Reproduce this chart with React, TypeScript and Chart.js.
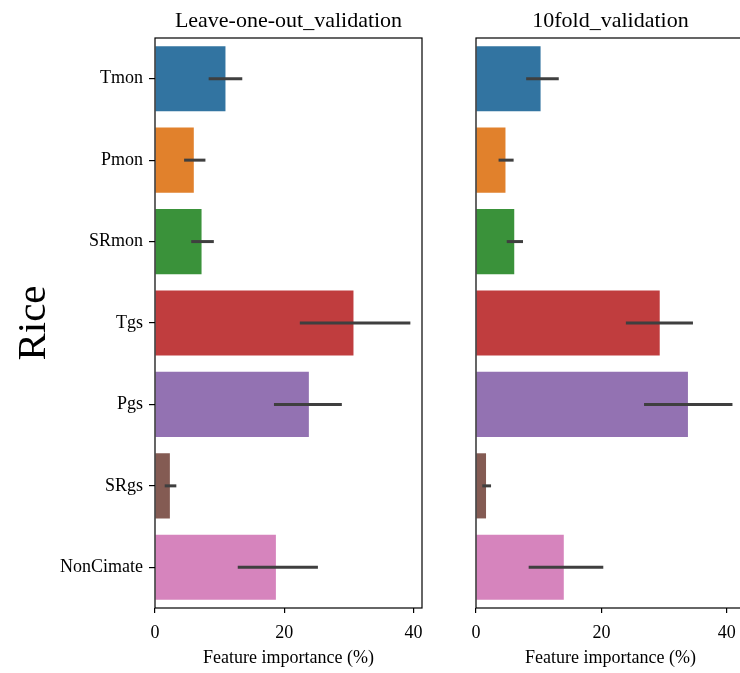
import React, { useEffect, useRef } from "react";
import { Chart, registerables } from "chart.js";

Chart.register(...registerables);

const FONT = "'Liberation Serif', 'Times New Roman', serif";

const categories = ["Tmon", "Pmon", "SRmon", "Tgs", "Pgs", "SRgs", "NonCimate"];
const barColors = ["#3274a1", "#e1812c", "#3a923a", "#c03d3e", "#9372b2", "#845b53", "#d684bd"];

const looValues = [10.9, 6.0, 7.2, 30.7, 23.8, 2.3, 18.7];
const looLow = [8.3, 4.5, 5.6, 22.4, 18.4, 1.5, 12.8];
const looHigh = [13.5, 7.8, 9.1, 39.5, 28.9, 3.3, 25.2];

const foldValues = [10.3, 4.7, 6.1, 29.3, 33.8, 1.6, 14.0];
const foldLow = [8.0, 3.6, 4.9, 23.9, 26.8, 1.0, 8.4];
const foldHigh = [13.2, 6.0, 7.5, 34.6, 40.9, 2.4, 20.3];

const xTicks = [0, 20, 40];

const overlay = {
  id: "overlay",
  afterDatasetsDraw(chart: any, _args: any, opts: any) {
    const { ctx, chartArea } = chart;
    const { left, right, top, bottom } = chartArea;
    const x = chart.scales.x;
    const meta = chart.getDatasetMeta(0);
    ctx.save();
    ctx.strokeStyle = "#3f3f3f";
    ctx.lineWidth = 3;
    ctx.lineCap = "butt";
    meta.data.forEach((el: any, i: number) => {
      ctx.beginPath();
      ctx.moveTo(x.getPixelForValue(opts.low[i]), el.y);
      ctx.lineTo(x.getPixelForValue(opts.high[i]), el.y);
      ctx.stroke();
    });
    ctx.strokeStyle = "#000";
    ctx.lineWidth = 1.2;
    ctx.strokeRect(left, top, right - left, bottom - top);
    ctx.fillStyle = "#000";
    ctx.font = `22px ${FONT}`;
    ctx.textAlign = "center";
    ctx.textBaseline = "alphabetic";
    ctx.fillText(opts.title, (left + right) / 2, 27);
    if (opts.ylabel) {
      ctx.translate(45, 323);
      ctx.rotate(-Math.PI / 2);
      ctx.font = `41px ${FONT}`;
      ctx.textBaseline = "alphabetic";
      ctx.fillText(opts.ylabel, 0, 0);
    }
    ctx.restore();
  },
};

function makeConfig(values: number[], low: number[], high: number[], title: string, xmax: number, isLeft: boolean): any {
  return {
    type: "bar",
    data: {
      labels: categories,
      datasets: [
        {
          data: values,
          backgroundColor: barColors,
          borderWidth: 0,
          barPercentage: 0.8,
          categoryPercentage: 1,
        },
      ],
    },
    options: {
      indexAxis: "y",
      responsive: false,
      animation: false,
      layout: {
        padding: isLeft ? { top: 38, right: 18, left: 0, bottom: 0 } : { top: 38, right: 5, left: 36, bottom: 0 },
      },
      plugins: {
        legend: { display: false },
        tooltip: { enabled: false },
        overlay: { low, high, title, ylabel: isLeft ? "Rice" : null },
      },
      scales: {
        x: {
          type: "linear",
          min: 0,
          max: xmax,
          afterBuildTicks: (s: any) => {
            s.ticks = xTicks.map((v) => ({ value: v }));
          },
          afterFit: (s: any) => {
            s.height = 65;
          },
          grid: { display: true, drawOnChartArea: false, drawTicks: true, tickLength: 5, color: "#000", lineWidth: 1.2 },
          border: { display: false },
          ticks: { color: "#000", font: { family: FONT, size: 18 }, padding: 9, maxRotation: 0 },
          title: {
            display: true,
            text: "Feature importance (%)",
            color: "#000",
            font: { family: FONT, size: 18 },
            padding: { top: 0, bottom: 4 },
          },
        },
        y: isLeft
          ? {
              type: "category",
              afterFit: (s: any) => {
                s.width = 155;
              },
              grid: { display: true, offset: false, drawOnChartArea: false, drawTicks: true, tickLength: 6, color: "#000", lineWidth: 1.2 },
              border: { display: false },
              ticks: { color: "#000", font: { family: FONT, size: 18 }, padding: 6 },
            }
          : { type: "category", display: false },
      },
    },
    plugins: [overlay],
  };
}

export default function App() {
  const leftRef = useRef<HTMLCanvasElement>(null);
  const rightRef = useRef<HTMLCanvasElement>(null);

  useEffect(() => {
    const c1 = new Chart(leftRef.current as HTMLCanvasElement, makeConfig(looValues, looLow, looHigh, "Leave-one-out_validation", 41.3, true));
    const c2 = new Chart(rightRef.current as HTMLCanvasElement, makeConfig(foldValues, foldLow, foldHigh, "10fold_validation", 42.9, false));
    return () => {
      c1.destroy();
      c2.destroy();
    };
  }, []);

  return (
    <div style={{ position: "fixed", left: 0, top: 0, width: 740, height: 673, overflow: "hidden", background: "#fff" }}>
      <canvas ref={leftRef} width={440} height={673} style={{ position: "absolute", left: 0, top: 0, width: 440, height: 673 }} />
      <canvas ref={rightRef} width={310} height={673} style={{ position: "absolute", left: 440, top: 0, width: 310, height: 673 }} />
    </div>
  );
}
